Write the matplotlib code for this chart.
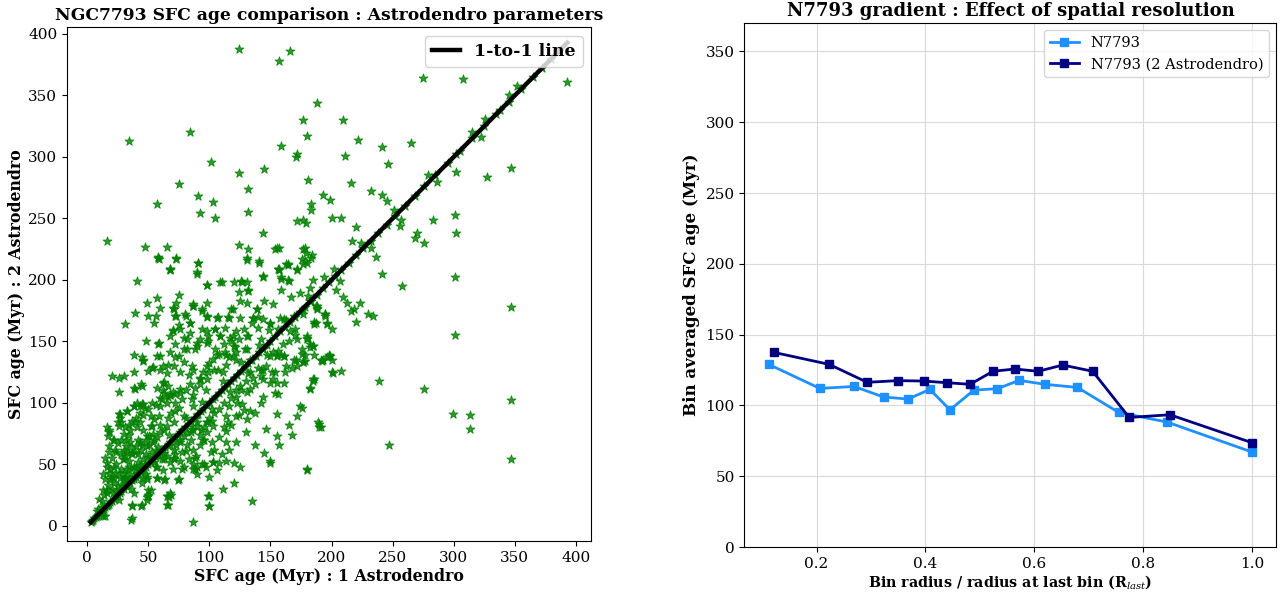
import numpy as np
import matplotlib
matplotlib.use("Agg")
import matplotlib.pyplot as plt

plt.rcParams['font.family'] = ['DejaVu Serif']
plt.rcParams['mathtext.fontset'] = 'dejavuserif'

# ---------------- left panel data: (age 1 Astrodendro, age 2 Astrodendro) ----------------
upper_outliers = [
    (124,388),(166,386),(157,378),(188,344),(177,330),(180,317),(84,320),(34,313),(159,309),(171,300),
    (172,302),(101,296),(124,287),(145,290),(181,281),(75,278),(132,274),(91,268),(103,263),(57,262),
    (193,269),(199,265),(183,262),(183,257),(92,254),(132,255),(105,250),(172,248),(177,249),(179,246),
    (16,232),(144,238),(47,227),(65,227),(58,218),(73,217),(124,228),(132,225),(154,225),(157,226),
    (177,225),(179,222),(183,218),(177,213),(131,216),(141,214),(91,214),(90,205),(68,208),(164,212),
    (157,208),(172,208),(144,202),
    (275,364),(308,363),(393,361),(209,330),(222,314),(241,308),(265,311),(211,301),(246,294),(347,291),
    (327,284),(302,288),(216,279),(232,272),(241,269),(245,264),(200,250),(208,250),(220,243),(256,244),
    (283,249),(301,253),(302,238),(217,232),(270,238),(268,234),(276,230),(236,219),(241,205),(301,202),
    (326,331),(345,350),(352,358),(338,338),
]
lower_right = [
    (258,195),(347,178),(301,155),(223,181),(216,175),(218,176),(209,186),(213,181),(204,192),(194,202),
    (220,166),(230,172),(234,171),(186,164),(196,164),(188,176),(195,171),(239,118),(276,111),(347,102),
    (299,91),(313,90),(313,79),(247,66),(347,54),(180,45),(190,83),(190,80),(176,96),(201,124),
    (208,126),(182,111),(185,118),(186,119),(177,133),(192,134),(198,138),(200,135),(186,139),(180,153),
    (182,145),(178,139),(177,172),(182,183),
]
core = [
    (59,217),(68,209),(91,214),(90,206),(41,199),(98,196),(109,198),(120,198),(127,198),(124,190),
    (132,191),(125,183),(75,188),(57,185),(49,181),(60,177),(73,181),(70,177),(87,179),(98,181),
    (94,175),(39,173),(50,171),(31,164),(55,165),(73,171),(81,171),(75,163),(84,165),(70,159),
    (98,170),(107,170),(115,170),(125,169),(119,176),(131,181),(139,176),(136,169),(145,183),(152,180),
    (144,203),(157,209),(164,213),(172,209),(159,201),(164,200),(159,192),(167,186),(174,189),(182,193),
    (185,200),(178,215),(188,177),(195,172),(186,166),(196,137),(191,135),(198,139),(149,159),(156,160),
    (170,160),(180,154),(182,148),(185,146),(176,140),(178,134),(171,135),(168,128),(155,139),(161,138),
    (154,125),(162,125),(161,116),(150,116),(152,119),(144,127),(142,122),(137,115),(144,105),(142,100),
    (156,107),(174,97),(172,89),(165,82),(155,91),(146,79),(155,73),(157,66),(168,74),(189,84),
    (191,80),(137,66),(145,59),(150,53),(150,51),(180,46),(135,20),(120,35),(111,30),(99,24),
    (100,16),(87,3),(125,48),(120,51),(114,53),(108,51),(103,52),(96,50),(90,42),(88,46),
    (79,48),(74,37),(70,46),(63,37),(69,25),(66,24),(66,17),(50,25),(49,23),(44,16),
    (37,16),(37,6),(38,27),(15,8),(57,39),(49,40),(57,48),(71,54),(63,59),(81,61),
    (88,55),(101,60),(92,66),(96,70),(102,68),(114,68),(122,68),(130,76),(114,77),(115,84),
    (131,87),(123,100),(127,99),(133,93),(137,92),(116,97),(114,89),(122,89),(131,109),(125,114),
    (133,111),(122,110),
]
upper_core = [
    (58,219),(73,218),(68,209),(98,196),(110,198),(126,199),(131,198),(132,192),(87,180),(72,171),
    (80,172),(94,176),(118,176),(139,176),(156,209),(163,213),(178,226),(155,226),(131,218),(141,215),
    (159,202),(165,199),(176,217),(180,214),(184,220),(56,171),(71,176),(87,179),(98,171),(106,169),
    (116,169),(136,169),(144,168),(150,165),(158,169),(163,167),(169,171),(177,176),(188,179),(195,172),
    (196,165),(200,160),(187,165),(172,152),(180,152),(185,146),(176,144),(193,135),(199,138),(200,125),
    (185,119),(182,112),(169,135),(161,138),(155,138),(159,139),(163,130),(172,130),(177,133),(155,116),
    (151,125),(144,119),(154,108),(133,125),(142,127),(122,141),(131,144),(120,146),(106,139),(116,137),
    (114,131),(107,127),(99,125),(92,119),(97,110),(87,106),(76,111),(68,106),(62,116),(60,127),
    (57,138),(72,137),(82,144),(90,146),(98,149),(99,154),(109,154),(117,153),(124,152),(132,154),
    (113,161),(105,160),(84,157),(76,160),(68,154),(59,149),(79,153),(94,160),(84,165),
]
left_dense = [
    (16,80),(18,76),(21,70),(17,73),(26,81),(28,84),(34,82),(39,84),(41,80),(43,84),
    (27,91),(33,93),(38,97),(43,97),(46,99),(47,96),(52,89),(55,87),(59,89),(53,81),
    (60,97),(65,100),(61,103),(68,106),(72,107),(76,108),(62,110),(66,114),(57,112),(45,114),
    (38,112),(26,109),(20,122),(26,120),(30,122),(38,125),(50,126),(54,129),(62,130),(66,131),
    (71,130),(76,125),(83,123),(87,127),(86,130),(79,133),(75,138),(68,141),(60,138),(46,135),
    (38,139),(45,137),(48,150),(58,148),(72,148),(79,144),(82,152),(88,144),(90,149),(92,152),
    (98,158),(105,160),(109,154),(99,150),(105,144),(113,141),(98,130),(104,127),(111,125),(114,139),
    (119,138),(121,145),(129,144),(119,154),(131,154),(140,161),(142,152),(150,164),(144,144),(152,141),
    (133,135),(122,135),(92,115),(98,119),(86,103),(87,97),(91,91),(79,89),(72,93),(71,84),
    (65,81),(60,76),(51,73),(54,68),(49,65),(43,68),(37,59),(32,65),(30,54),(24,60),
    (16,51),(19,46),(15,38),(22,39),(27,29),(16,27),(13,29),(32,40),(38,48),(41,43),
    (45,35),(50,29),(46,54),(34,48),(28,46),(26,43),(68,66),(76,70),(82,76),(87,78),
    (90,84),(98,76),(103,81),(98,84),(83,54),(87,50),(76,53),
    (70,158),(46,134),(53,128),(63,117),(65,124),(70,109),(44,115),(39,111),
]
blob = [
    (16,48),(18,43),(19,38),(25,32),(16,29),(29,54),(31,57),(34,53),(37,58),(38,48),
    (41,43),(45,39),(30,43),(33,46),(35,38),(27,39),(22,48),(23,43),(49,38),(52,29),
    (57,39),(64,38),(49,21),(50,24),(65,24),(68,27),(65,17),(37,17),(45,17),(36,5),
    (100,24),(100,16),(103,52),(97,48),(90,48),(78,46),(75,38),(71,55),(63,54),(56,48),
    (53,54),(58,58),(48,58),(44,62),(40,65),(35,68),(42,70),(49,73),(55,70),(46,78),
    (52,81),(34,74),(31,80),(25,84),(27,88),(18,78),(22,70),(18,65),(26,91),(33,93),
    (38,97),(45,99),(41,100),
    (65,57),(71,62),(76,68),(79,73),(85,76),(90,81),(93,78),(95,70),(98,84),(102,85),
    (87,62),(89,57),(87,46),(94,50),(67,23),
]
blob_extra = [
    (12,20),(14,25),(17,33),(20,30),(22,35),(24,28),(28,33),(30,38),(33,35),(35,42),
    (38,40),(40,47),(42,52),(44,45),(47,50),(50,56),(53,60),(55,52),(58,64),(60,60),
    (20,55),(23,62),(25,67),(28,70),(30,75),(32,70),(35,78),(37,85),(40,88),(43,92),
    (46,90),(50,95),(53,100),(56,98),(60,104),(63,108),(66,105),(20,40),(24,50),(28,58),
    (13,42),(15,55),(18,60),(30,62),(33,60),(36,64),(39,60),(42,58),(45,66),(48,70),
    (51,66),(54,75),(57,72),(60,82),(63,78),(66,88),(69,92),(72,100),(75,96),(78,103),
    (81,110),(84,115),(88,112),(92,120),(95,125),(100,132),(103,136),(108,140),(112,148),(118,150),
    (122,158),(128,160),(135,165),(140,170),(12,15),(8,12),(10,22),
    (62,45),(68,52),(72,58),(78,60),(82,66),(85,70),(92,74),(96,80),(100,88),(104,92),
    (108,95),(112,100),(118,104),(122,105),(126,110),(130,118),(136,120),(140,128),(146,130),(150,138),
    (156,142),(160,148),(165,150),(170,155),(108,72),(112,80),(118,82),(124,90),(128,94),(100,40),
    (106,45),(110,58),(104,62),(116,62),
]
near_line = [
    (9,14),(13,8),(21,27),(26,21),(31,37),(36,30),(43,49),(48,42),(56,62),(61,54),
    (67,74),(73,66),(81,88),(86,79),(94,101),(102,95),(111,118),(117,109),(126,133),(132,124),
    (141,147),(147,139),(161,168),(166,158),(181,187),(187,179),(202,209),(207,199),(224,230),(232,226),
    (251,257),(257,249),(279,285),(286,280),(315,320),(322,316),
]
# clouds whose age is identical in both runs (lie on the 1-to-1 line)
same_age = [3,4,5,6,7,8,9,10,11,12,13,14,15,16,17,18,19,20,22,24,25,27,28,30,32,33,35,37,38,40,
            42,44,46,48,50,52,54,56,58,60,62,64,66,68,70,72,74,76,78,80,83,85,88,90,93,95,98,100,
            103,105,108,110,113,115,118,120,123,126,129,132,135,138,141,144,147,150,154,158,162,
            166,170,174,178,183,188,193,198,203,208,214,220,226,232,238,245,252,260,268,276,285,
            295,302,305,315,325,335,345,355,365,372,380,386]

pairs = upper_outliers + lower_right + core + upper_core + left_dense + blob + blob_extra + near_line
age_1 = np.array([p[0] for p in pairs] + same_age, dtype=float)
age_2 = np.array([p[1] for p in pairs] + same_age, dtype=float)

# ---------------- right panel data ----------------
r_1 = [0.112,0.206,0.269,0.323,0.368,0.408,0.445,0.489,0.532,0.572,0.619,0.679,0.755,0.844,1.0]
grad_1 = [129.0,112.0,113.4,105.9,104.5,111.3,96.9,110.8,111.8,117.7,114.9,112.7,95.0,88.2,67.0]
r_2 = [0.121,0.223,0.293,0.349,0.397,0.440,0.482,0.524,0.564,0.607,0.652,0.707,0.774,0.849,1.0]
grad_2 = [137.5,129.0,116.3,117.5,117.2,116.0,114.9,124.1,125.7,124.1,128.5,124.1,91.5,93.4,73.6]

fig = plt.figure(figsize=(12.88, 5.92), dpi=100)
ax1 = fig.add_axes([0.052, 0.086, 0.407, 0.868])
ax2 = fig.add_axes([0.578, 0.076, 0.413, 0.885])

ax1.scatter(age_1, age_2, marker='*', s=45, color='green', alpha=0.8, linewidths=0.7, zorder=2)
xs = np.sort(age_1)
ax1.plot(xs, xs, color='black', lw=3.2, label='1-to-1 line', zorder=3)
ax1.set_ylim(-12.5, 405.5)
ax1.set_xticks(np.arange(0, 401, 50))
ax1.set_yticks(np.arange(0, 401, 50))
ax1.tick_params(labelsize=11)
ax1.set_xlabel('SFC age (Myr) : 1 Astrodendro', fontsize=11.3, fontweight='bold', labelpad=2)
ax1.set_ylabel('SFC age (Myr) : 2 Astrodendro', fontsize=11.3, fontweight='bold', labelpad=2)
ax1.set_title('NGC7793 SFC age comparison : Astrodendro parameters', fontsize=12.3, fontweight='bold', pad=5)
ax1.legend(loc='upper right', prop={'weight': 'bold', 'size': 12.5}, handlelength=1.6)

ax2.plot(r_1, grad_1, color='dodgerblue', lw=2, marker='s', markersize=6, label='N7793')
ax2.plot(r_2, grad_2, color='navy', lw=2, marker='s', markersize=6, label='N7793 (2 Astrodendro)')
ax2.set_ylim(0, 370)
ax2.set_yticks(np.arange(0, 351, 50))
ax2.set_xticks([0.2, 0.4, 0.6, 0.8, 1.0])
ax2.grid(True, color='#d9d9d9', lw=0.8)
ax2.set_axisbelow(True)
ax2.tick_params(labelsize=11)
ax2.set_xlabel(r'Bin radius / radius at last bin (R$_{last}$)', fontsize=10.3, fontweight='bold', labelpad=2)
ax2.set_ylabel('Bin averaged SFC age (Myr)', fontsize=12, fontweight='bold')
ax2.set_title('N7793 gradient : Effect of spatial resolution', fontsize=13, fontweight='bold', pad=5)
ax2.legend(loc='upper right', fontsize=10.5)

fig.savefig('out.png', dpi=100)
